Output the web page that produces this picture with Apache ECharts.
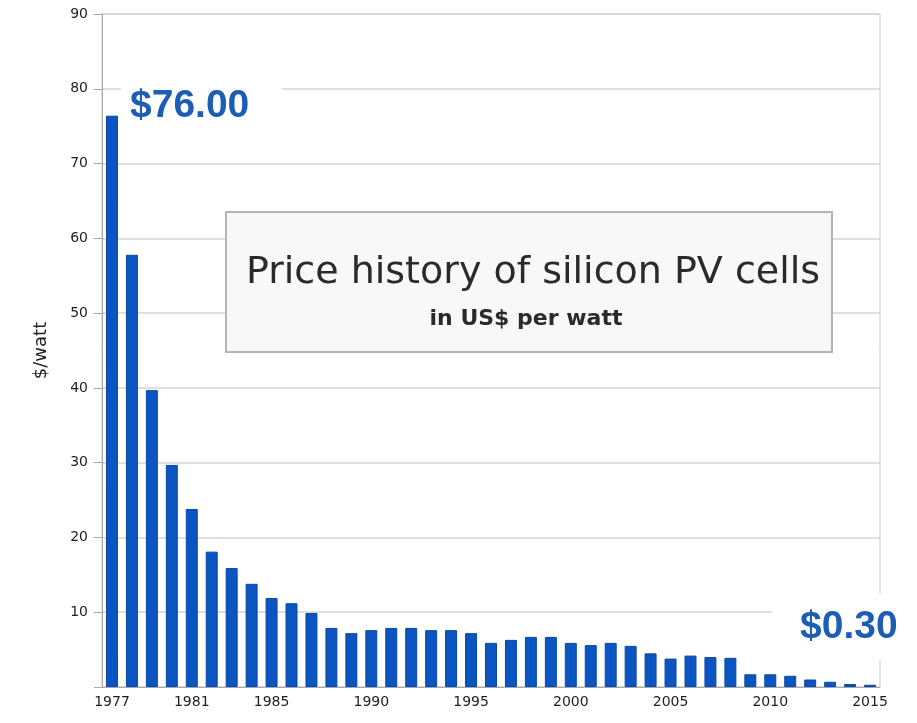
<!DOCTYPE html>
<html>
<head>
<meta charset="utf-8">
<script src="https://cdn.jsdelivr.net/npm/echarts@6/dist/echarts.min.js"></script>
<style>html,body{margin:0;padding:0;background:#fff}#c{width:917px;height:723px}</style>
</head>
<body>
<div id="c"></div>
<script>
var years = ['1977','1978','1979','1980','1981','1982','1983','1984','1985','1986','1987','1988','1989','1990','1991','1992','1993','1994','1995','1996','1997','1998','1999','2000','2001','2002','2003','2004','2005','2006','2007','2008','2009','2010','2011','2012','2013','2014','2015'];
var prices = [76.4, 57.8, 39.7, 29.7, 23.8, 18.1, 15.9, 13.8, 11.9, 11.2, 9.9, 7.9, 7.2, 7.6, 7.9, 7.9, 7.6, 7.6, 7.2, 5.9, 6.3, 6.7, 6.7, 5.9, 5.6, 5.9, 5.5, 4.5, 3.8, 4.2, 4.0, 3.9, 1.7, 1.7, 1.5, 1.0, 0.7, 0.4, 0.3];
var shownYears = ['1977','1981','1985','1990','1995','2000','2005','2010','2015'];
var yTicks = [0, 10, 20, 30, 40, 50, 60, 70, 80, 90];
var titleText = 'Price history of silicon PV cells';
var subtitleText = 'in US$ per watt';
var yName = '$/watt';
var firstLabel = '$76.00';
var lastLabel = '$0.30';

var chart = echarts.init(document.getElementById('c'));
chart.setOption({
  animation: false,
  backgroundColor: '#ffffff',
  grid: { left: 102, right: 37, top: 14, bottom: 36, show: true, borderColor: '#c8c8c8', borderWidth: 1 },
  xAxis: {
    type: 'category',
    data: years,
    boundaryGap: true,
    axisLine: { lineStyle: { color: '#a8a8a8' } },
    axisTick: { interval: 0, length: 5, lineStyle: { color: '#c0c0c0' } },
    axisLabel: {
      interval: function (i, v) { return shownYears.indexOf(v) >= 0; },
      color: '#1e1e1e', fontFamily: 'DejaVu Sans', fontSize: 14, margin: 8
    }
  },
  yAxis: {
    type: 'value',
    min: yTicks[0], max: yTicks[yTicks.length - 1], interval: 10,
    name: yName, nameLocation: 'middle', nameGap: 52, nameRotate: 90,
    nameTextStyle: { color: '#1e1e1e', fontFamily: 'DejaVu Sans', fontSize: 18 },
    axisLine: { show: true, lineStyle: { color: '#a8a8a8' } },
    axisTick: { show: true, length: 8, lineStyle: { color: '#a8a8a8' } },
    axisLabel: {
      color: '#1e1e1e', fontFamily: 'DejaVu Sans', fontSize: 14, margin: 14,
      formatter: function (v) { return v === 0 ? '' : String(v); }
    },
    splitLine: { lineStyle: { color: '#d4d4d4', width: 1.5 } }
  },
  series: [{
    type: 'bar',
    data: prices,
    barWidth: '60%',
    itemStyle: { color: '#0a55c2', borderColor: '#0a47a6', borderWidth: 1 }
  }],
  graphic: [
    { type: 'rect', left: 225, top: 211, z: 10,
      shape: { width: 606, height: 140 },
      style: { fill: '#f8f8f8', stroke: '#b4b4b4', lineWidth: 2 } },
    { type: 'text', z: 11, x: 533, y: 273,
      style: { text: titleText, fill: '#2a2a2a', font: 'normal 38px "DejaVu Sans"', textAlign: 'center', textVerticalAlign: 'middle' } },
    { type: 'text', z: 11, x: 526, y: 319,
      style: { text: subtitleText, fill: '#2a2a2a', font: 'bold 22px "DejaVu Sans"', textAlign: 'center', textVerticalAlign: 'middle' } },
    { type: 'text', z: 11, x: 121, y: 106,
      style: { text: firstLabel, fill: '#1d5db4', font: 'bold 39px "Liberation Sans"', textAlign: 'left', textVerticalAlign: 'middle',
               backgroundColor: '#ffffff', padding: [8, 33, 8, 9] } },
    { type: 'text', z: 11, x: 772, y: 627,
      style: { text: lastLabel, fill: '#1d5db4', font: 'bold 39px "Liberation Sans"', textAlign: 'left', textVerticalAlign: 'middle',
               backgroundColor: '#ffffff', padding: [14, 40, 14, 28] } }
  ]
});
</script>
</body>
</html>
